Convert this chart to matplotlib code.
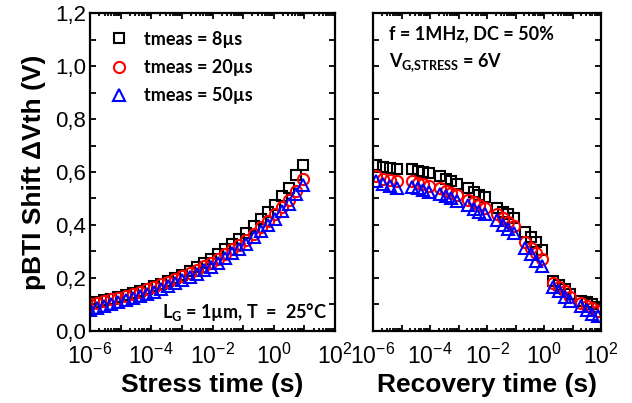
import matplotlib
matplotlib.use("Agg")
import matplotlib.pyplot as plt
import numpy as np
from matplotlib.ticker import FuncFormatter, LogLocator, MultipleLocator, NullFormatter

# ---- data ----
# stress phase: log10(time / s)
stress_log_t = [-6.00, -5.77, -5.54, -5.30, -5.07, -4.84, -4.61, -4.38, -4.14, -3.91,
                -3.68, -3.45, -3.22, -2.98, -2.75, -2.52, -2.29, -2.06, -1.82, -1.59,
                -1.36, -1.13, -0.90, -0.66, -0.43, -0.20, 0.03, 0.26, 0.50, 0.73, 0.96]
stress_8us = [0.105, 0.111, 0.116, 0.122, 0.128, 0.136, 0.144, 0.152, 0.160, 0.169,
              0.179, 0.190, 0.200, 0.211, 0.226, 0.241, 0.256, 0.271, 0.290, 0.310,
              0.329, 0.349, 0.371, 0.397, 0.423, 0.448, 0.476, 0.508, 0.540, 0.589, 0.626]
stress_20us = [0.100, 0.106, 0.112, 0.119, 0.125, 0.133, 0.141, 0.149, 0.157, 0.166,
               0.176, 0.186, 0.196, 0.206, 0.219, 0.231, 0.244, 0.257, 0.273, 0.291,
               0.308, 0.325, 0.344, 0.367, 0.391, 0.415, 0.442, 0.468, 0.496, 0.530, 0.575]
stress_50us = [0.080, 0.087, 0.094, 0.101, 0.108, 0.116, 0.124, 0.132, 0.140, 0.149,
               0.159, 0.169, 0.180, 0.191, 0.203, 0.216, 0.229, 0.242, 0.258, 0.276,
               0.293, 0.310, 0.330, 0.354, 0.377, 0.400, 0.423, 0.451, 0.480, 0.516, 0.551]

# recovery phase: log10(time / s), measured in groups of four
rec_log_t = [-5.90, -5.65, -5.40, -5.15,
             -4.63, -4.43, -4.23, -4.03,
             -3.65, -3.45, -3.25, -3.05,
             -2.67, -2.47, -2.27, -2.07,
             -1.65, -1.45, -1.25, -1.05,
             -0.67, -0.47, -0.27, -0.07,
             0.32, 0.52, 0.72, 0.92,
             1.30, 1.50, 1.70, 1.90]
rec_8us = [0.625, 0.618, 0.615, 0.612,
           0.610, 0.605, 0.600, 0.595,
           0.585, 0.575, 0.565, 0.555,
           0.540, 0.525, 0.515, 0.505,
           0.465, 0.450, 0.440, 0.425,
           0.375, 0.355, 0.335, 0.305,
           0.190, 0.175, 0.160, 0.140,
           0.115, 0.110, 0.100, 0.090]
rec_20us = [0.585, 0.575, 0.570, 0.565,
            0.565, 0.560, 0.555, 0.548,
            0.540, 0.530, 0.522, 0.515,
            0.495, 0.485, 0.475, 0.465,
            0.440, 0.425, 0.410, 0.395,
            0.335, 0.315, 0.295, 0.270,
            0.180, 0.165, 0.150, 0.130,
            0.105, 0.095, 0.085, 0.075]
rec_50us = [0.565, 0.555, 0.548, 0.540,
            0.545, 0.538, 0.532, 0.525,
            0.518, 0.508, 0.500, 0.490,
            0.475, 0.462, 0.450, 0.440,
            0.420, 0.400, 0.385, 0.370,
            0.315, 0.290, 0.265, 0.245,
            0.165, 0.150, 0.130, 0.115,
            0.095, 0.080, 0.065, 0.055]

labels = ["tmeas = 8µs", "tmeas = 20µs", "tmeas = 50µs"]
colors = ["black", "red", "blue"]
markers = ["s", "o", "^"]
msizes = [7.5, 8.0, 9.0]

TICK_FONT = "Liberation Sans"
NOTE_FONT = ["Lato", "DejaVu Sans"]

fig = plt.figure(figsize=(6.32, 4.03), dpi=100)
ax1 = fig.add_axes([0.1424, 0.1787, 0.3877, 0.789])
ax2 = fig.add_axes([0.5902, 0.1787, 0.3608, 0.789])


def dec_label(x, pos):
    e = int(round(np.log10(x)))
    if e % 2:
        return ""
    return r"$\mathregular{10^{%d}}$" % e


def style_axes(ax, show_y):
    ax.set_xscale("log")
    ax.set_xlim(1e-6, 1e2)
    ax.set_ylim(0, 1.2)
    ax.xaxis.set_major_locator(LogLocator(base=10, numticks=20))
    ax.xaxis.set_minor_locator(LogLocator(base=10, subs=np.arange(2, 10), numticks=20))
    ax.xaxis.set_major_formatter(FuncFormatter(dec_label))
    ax.xaxis.set_minor_formatter(NullFormatter())
    ax.yaxis.set_major_locator(MultipleLocator(0.2))
    ax.yaxis.set_minor_locator(MultipleLocator(0.1))
    if show_y:
        ax.yaxis.set_major_formatter(FuncFormatter(lambda v, p: f"{v:.1f}".replace(".", ",")))
    else:
        ax.yaxis.set_major_formatter(NullFormatter())
    ax.tick_params(which="both", direction="in", top=True, right=True, width=1.3)
    ax.tick_params(axis="y", which="major", length=4.5, labelsize=16, pad=3)
    ax.tick_params(axis="x", which="major", length=4.5, labelsize=16.5, pad=9)
    ax.tick_params(axis="x", which="minor", length=2.5)
    ax.tick_params(axis="y", which="minor", length=4.5)
    for lab in ax.get_xticklabels() + ax.get_yticklabels():
        lab.set_fontfamily(TICK_FONT)
    for sp in ax.spines.values():
        sp.set_linewidth(1.6)


kw = dict(linestyle="none", markerfacecolor="none", markeredgewidth=1.5)

t_stress = [10 ** v for v in stress_log_t]
for ys, c, m, ms, lab in zip([stress_8us, stress_20us, stress_50us], colors, markers, msizes, labels):
    ax1.plot(t_stress, ys, marker=m, color=c, markersize=ms, label=lab, **kw)

t_rec = [10 ** v for v in rec_log_t]
for ys, c, m, ms in zip([rec_8us, rec_20us, rec_50us], colors, markers, msizes):
    ax2.plot(t_rec, ys, marker=m, color=c, markersize=ms, **kw)

style_axes(ax1, True)
style_axes(ax2, False)

ax1.set_xlabel("Stress time (s)", fontsize=19, fontweight="bold", family=TICK_FONT, labelpad=3)
ax2.set_xlabel("Recovery time (s)", fontsize=19, fontweight="bold", family=TICK_FONT, labelpad=3)
ax1.set_ylabel("pBTI Shift ΔVth (V)", fontsize=19, fontweight="bold", family=TICK_FONT, labelpad=6)

leg = ax1.legend(loc="upper left", bbox_to_anchor=(0.0, 0.99), frameon=False,
                 prop=dict(family=NOTE_FONT, weight="bold", size=13),
                 handletextpad=0.6, labelspacing=0.62, borderpad=0.3, handlelength=1.6)

ax1.text(0.97, 0.025, r"L$_\mathregular{G}$ = 1µm, T  =  25°C", transform=ax1.transAxes,
         ha="right", va="bottom", fontsize=13, fontweight="bold", family=NOTE_FONT)
ax2.text(0.07, 0.935, "f = 1MHz, DC = 50%", transform=ax2.transAxes,
         ha="left", va="center", fontsize=13, fontweight="bold", family=NOTE_FONT)
ax2.text(0.07, 0.845, r"V$_\mathregular{G{,}STRESS}$ = 6V", transform=ax2.transAxes,
         ha="left", va="center", fontsize=13, fontweight="bold", family=NOTE_FONT)

fig.savefig("out.png", dpi=100)
